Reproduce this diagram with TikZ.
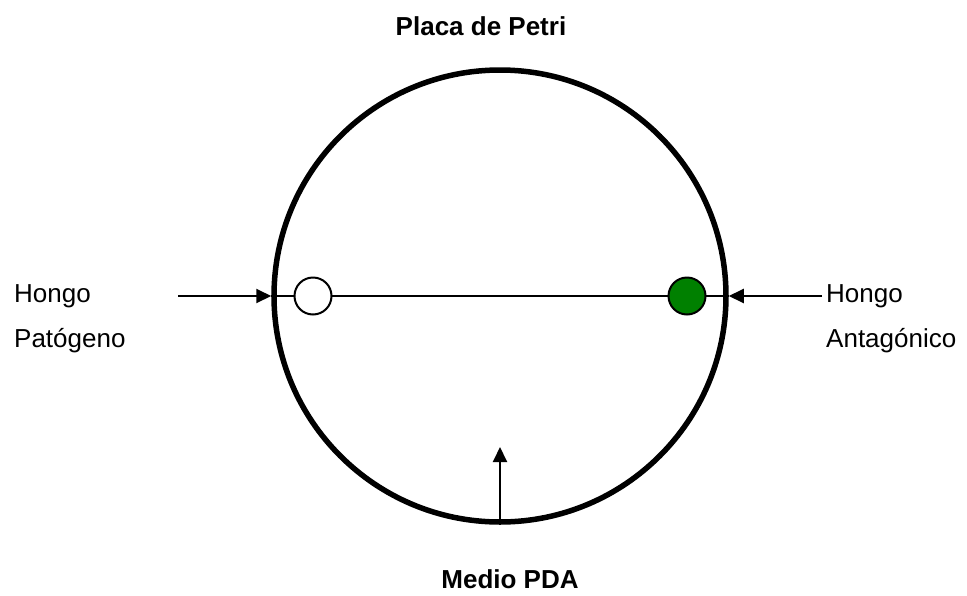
\documentclass[tikz,border=0pt]{standalone}
\usepackage{fontspec}
\setmainfont{Liberation Sans}
\usetikzlibrary{arrows.meta}

\tikzset{
  rotulo/.style={font=\fontsize{26}{45}\selectfont, inner sep=0pt, align=left},
  flecha/.style={line width=2pt, -{Triangle[length=15pt,width=14pt]}},
  hongo/.style={circle, draw, line width=2pt, minimum size=37pt, inner sep=0pt}
}

\begin{document}
\begin{tikzpicture}[x=1pt,y=-1pt]
  \useasboundingbox (0,0) rectangle (967,595);
  % placa
  \node[circle, draw, line width=5.5pt, minimum size=452pt, inner sep=0pt] (placa) at (500,296) {};
  \draw[line width=1.5pt] (placa.west) -- (placa.east);
  \node[hongo, fill=white] (patog) at (313,296) {};
  \node[hongo, fill=green!50!black] (antag) at (687,296) {};
  % rotulos
  \node[font=\fontsize{26}{30}\selectfont\bfseries, inner sep=0pt, anchor=base] (titulo) at (481,35) {Placa de Petri};
  \node[font=\fontsize{26}{30}\selectfont\bfseries, inner sep=0pt, anchor=base] (medio) at (510,588) {Medio PDA};
  \node[rotulo, anchor=base west] (izq) at (14,347) {Hongo\\Patógeno};
  \node[rotulo, anchor=base west] (der) at (826,347) {Hongo\\Antagónico};
  % flechas
  \coordinate (inicioIzq) at (178,296);
  \coordinate (inicioDer) at (822,296);
  \coordinate (puntaMedio) at (500,447);
  \draw[flecha] (inicioIzq) -- (placa.west);
  \draw[flecha] (inicioDer) -- (placa.east);
  \draw[flecha] (placa.south) -- (puntaMedio);
\end{tikzpicture}
\end{document}
